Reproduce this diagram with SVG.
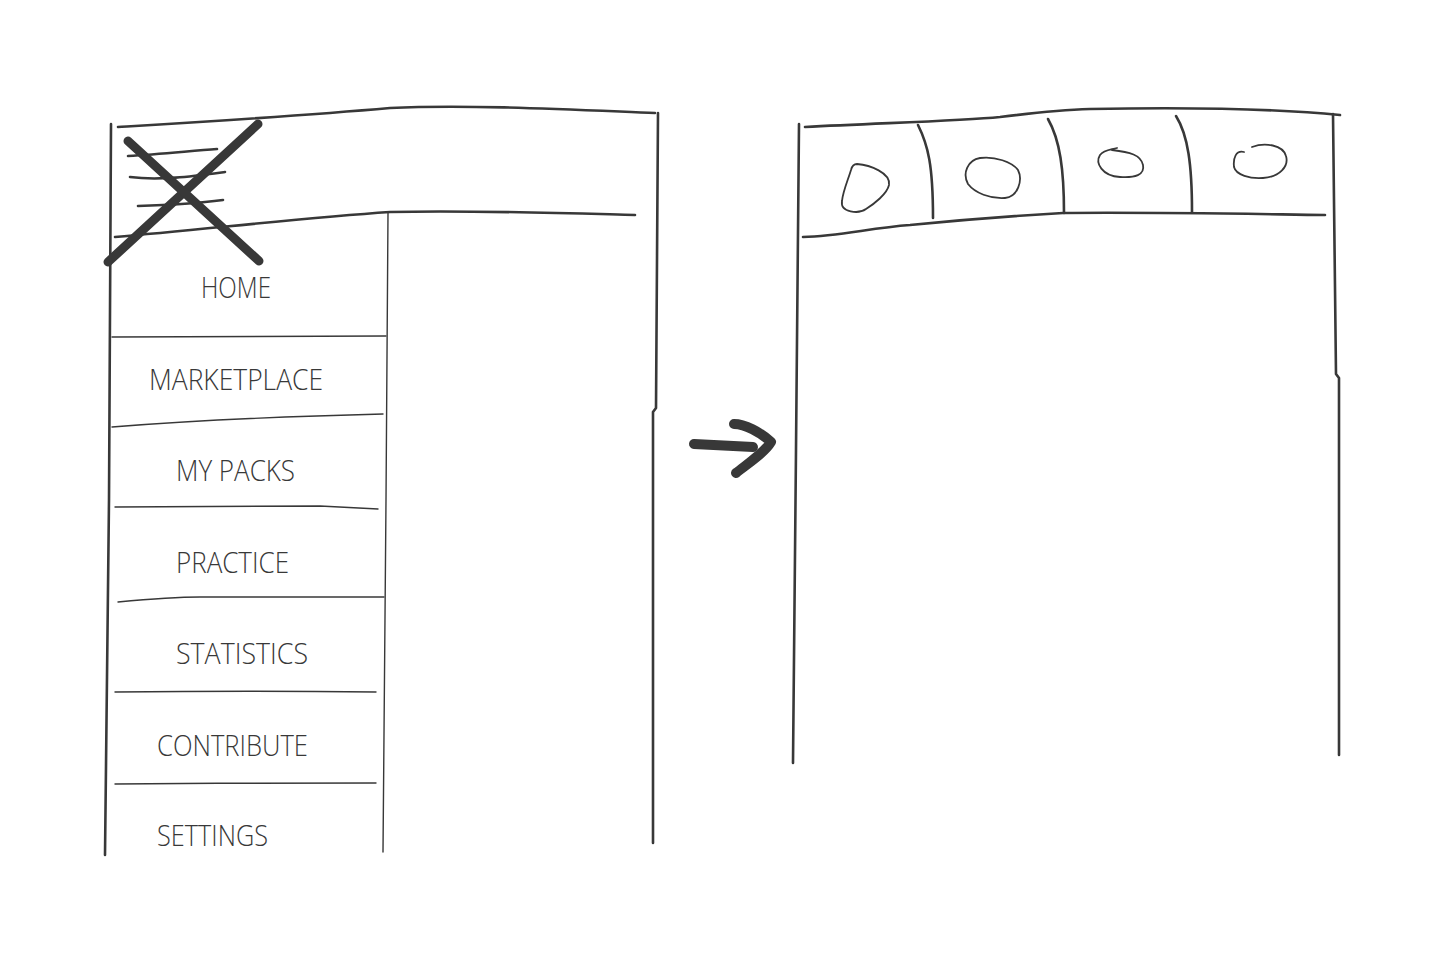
<svg xmlns="http://www.w3.org/2000/svg" width="1440" height="960" viewBox="0 0 1440 960">
<style>
.bg{fill:#ffffff}
.ln{fill:none;stroke:#383838;stroke-width:2.6;stroke-linecap:round;stroke-linejoin:round}
.thin{fill:none;stroke:#383838;stroke-width:1.4;stroke-linecap:round}
.thick{fill:none;stroke:#383838;stroke-width:9;stroke-linecap:round;stroke-linejoin:round}
.arr{fill:none;stroke:#383838;stroke-width:10;stroke-linecap:round;stroke-linejoin:round}
.lbl{font-family:"Open Sans","Liberation Sans","DejaVu Sans",sans-serif;font-weight:300;font-size:29px;fill:#383838}
</style>
<rect class="bg" x="0" y="0" width="1440" height="960"/>

<g id="old-layout">
  <path class="ln" d="M111,124 L109,500 L105,855"/>
  <path class="ln" d="M118,127 C200,122 300,116 390,108 C470,104 580,110 655,113"/>
  <path class="ln" d="M658,113 L656,408 L653,412 L653,843"/>
  <path class="ln" d="M115,237 C200,230 300,218 390,212 C470,210 560,213 635,215"/>
  <g id="hamburger">
    <path class="ln" d="M128,156 C160,154 190,151 217,149"/>
    <path class="ln" d="M130,177 C160,181 195,176 225,172"/>
    <path class="ln" d="M138,206 C170,205 200,203 223,200"/>
  </g>
  <g id="cross">
    <path class="thick" d="M108,262 L258,124"/>
    <path class="thick" d="M128,141 L259,261"/>
  </g>
  <g id="sidebar">
    <path class="thin" d="M388,213 L386,500 L383,852"/>
    <path class="thin" d="M112,337 L386,336"/>
    <path class="thin" d="M112,427 C200,420 300,416 383,414"/>
    <path class="thin" d="M115,507 L320,506 L378,509"/>
    <path class="thin" d="M118,602 C150,599 175,597 200,597 L384,597"/>
    <path class="thin" d="M115,692 C200,691 300,691 376,692"/>
    <path class="thin" d="M115,784 C200,783 300,783 376,783"/>
    <text class="lbl" x="201" y="298" textLength="70" lengthAdjust="spacingAndGlyphs">HOME</text>
    <text class="lbl" x="149" y="390" textLength="174" lengthAdjust="spacingAndGlyphs">MARKETPLACE</text>
    <text class="lbl" x="176" y="481" textLength="119" lengthAdjust="spacingAndGlyphs">MY PACKS</text>
    <text class="lbl" x="176" y="573" textLength="113" lengthAdjust="spacingAndGlyphs">PRACTICE</text>
    <text class="lbl" x="176" y="664" textLength="132" lengthAdjust="spacingAndGlyphs">STATISTICS</text>
    <text class="lbl" x="157" y="756" textLength="151" lengthAdjust="spacingAndGlyphs">CONTRIBUTE</text>
    <text class="lbl" x="157" y="846" textLength="111" lengthAdjust="spacingAndGlyphs">SETTINGS</text>
  </g>
</g>

<g id="connectors">
  <path class="arr" d="M694,444 L753,447"/>
  <path class="arr" d="M734,424 C745,424 760,432 771,442 C765,452 750,462 736,473"/>
</g>

<g id="new-layout">
  <path class="ln" d="M799,124 L796,450 L793,763"/>
  <path class="ln" d="M805,127 C880,123 960,121 1000,117 C1040,112 1060,110 1090,109 C1200,107 1290,110 1340,115"/>
  <path class="ln" d="M1333,114 L1336,374 L1339,378 L1339,755"/>
  <path class="ln" d="M803,237 C840,236 870,228 910,225 C960,220 1010,216 1063,213 C1150,212 1250,214 1325,215"/>
  <g id="tabs">
    <path class="ln" d="M918,125 C928,145 933,165 933,218"/>
    <path class="ln" d="M1048,119 C1060,140 1064,170 1064,213"/>
    <path class="ln" d="M1176,116 C1188,135 1192,165 1192,212"/>
  </g>
  <g id="icons">
    <path class="thin" style="stroke-width:1.8" d="M857,164 C870,165 891,173 889,185 C887,194 874,204 866,209 C859,214 840,213 842,201 C843,191 848,180 851,170 C852,166 854,164 857,164 Z"/>
    <path class="thin" style="stroke-width:1.8" d="M980,158 C995,156 1012,162 1018,170 C1023,180 1018,197 1005,198 C990,199 975,193 968,184 C962,173 968,160 980,158 Z"/>
    <path class="thin" style="stroke-width:1.8" d="M1117,148 C1110,150 1104,150 1100,155 C1095,163 1102,176 1120,177 C1135,178 1145,175 1143,165 C1141,155 1130,152 1112,150"/>
    <path class="thin" style="stroke-width:1.8" d="M1244,152 C1236,150 1233,158 1234,167 C1236,175 1250,179 1263,178 C1280,177 1289,166 1286,156 C1283,145 1265,142 1252,147"/>
  </g>
</g>
</svg>
